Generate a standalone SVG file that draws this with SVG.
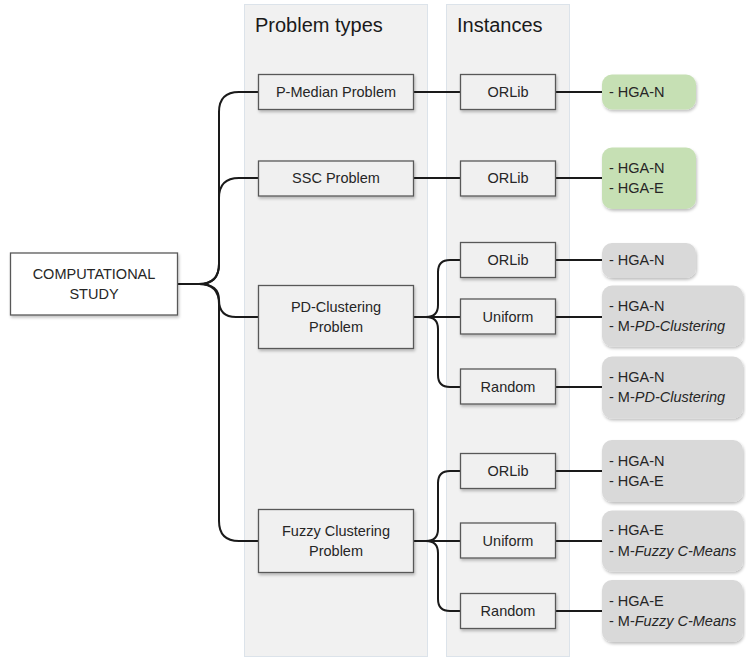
<svg xmlns="http://www.w3.org/2000/svg" width="746" height="659" viewBox="0 0 746 659">
<defs>
<filter id="sh" x="-10%" y="-10%" width="130%" height="140%">
<feGaussianBlur in="SourceAlpha" stdDeviation="1.5"/>
<feOffset dx="1" dy="2" result="b"/>
<feComponentTransfer><feFuncA type="linear" slope="0.25"/></feComponentTransfer>
<feMerge><feMergeNode/><feMergeNode in="SourceGraphic"/></feMerge>
</filter>
</defs>
<style>
text{font-family:"Liberation Sans",Arial,sans-serif;font-size:14.5px;fill:#262626}
.hd{font-size:20px;fill:#1a1a1a}
.c{text-anchor:middle}
.col{fill:#f1f1f1;stroke:#dce3ea;stroke-width:1}
.box{fill:#f0f0f0;stroke:#595959;stroke-width:1.3}
.root{fill:#ffffff;stroke:#595959;stroke-width:1.3}
.g{fill:#c6e0b4}
.y{fill:#d9d9d9}
.ln{fill:none;stroke:#1a1a1a;stroke-width:2}
.i{font-style:italic}
</style>
<rect class="col" x="244.5" y="4.5" width="183" height="652"/>
<rect class="col" x="446.5" y="4.5" width="123" height="652"/>
<text class="hd" x="255" y="32">Problem types</text>
<text class="hd" x="457" y="32">Instances</text>

<g id="connectors">
<path class="ln" d="M178,284 H199 Q219,284 219,264 V112 Q219,92 239,92 H258"/>
<path class="ln" d="M199,284 Q219,284 219,264 V198 Q219,178 239,178 H258"/>
<path class="ln" d="M178,284 H199 Q219,284 219,300 Q219,317 236,317 H258"/>
<path class="ln" d="M199,284 Q219,284 219,304 V521 Q219,541 239,541 H258"/>
<path class="ln" d="M413,92 H460"/>
<path class="ln" d="M413,178 H460"/>
<path class="ln" d="M413,317 H426 Q438,317 438,305 V272 Q438,260 450,260 H460"/>
<path class="ln" d="M426,317 H460"/>
<path class="ln" d="M426,317 Q438,317 438,329 V375 Q438,387 450,387 H460"/>
<path class="ln" d="M413,541 H426 Q438,541 438,529 V483 Q438,471 450,471 H460"/>
<path class="ln" d="M426,541 H460"/>
<path class="ln" d="M426,541 Q438,541 438,553 V599 Q438,611 450,611 H460"/>
<path class="ln" d="M555,92 H602"/>
<path class="ln" d="M555,178 H602"/>
<path class="ln" d="M555,260 H602"/>
<path class="ln" d="M555,317 H602"/>
<path class="ln" d="M555,387 H602"/>
<path class="ln" d="M555,471 H602"/>
<path class="ln" d="M555,541 H602"/>
<path class="ln" d="M555,611 H602"/>
</g>

<g id="root">
<rect class="root" x="10.5" y="253" width="167" height="62" filter="url(#sh)"/>
<text class="c" x="94" y="279">COMPUTATIONAL</text>
<text class="c" x="94" y="299">STUDY</text>
</g>

<g id="p-median">
<rect class="box" x="258.5" y="74.5" width="155" height="35" filter="url(#sh)"/>
<text class="c" x="336" y="97">P-Median Problem</text>
</g>
<g id="ssc">
<rect class="box" x="258.5" y="161" width="155" height="35" filter="url(#sh)"/>
<text class="c" x="336" y="183">SSC Problem</text>
</g>
<g id="pd-clustering">
<rect class="box" x="258.5" y="285.5" width="155" height="63" filter="url(#sh)"/>
<text class="c" x="336" y="312">PD-Clustering</text>
<text class="c" x="336" y="332">Problem</text>
</g>
<g id="fuzzy">
<rect class="box" x="258.5" y="509.5" width="155" height="63" filter="url(#sh)"/>
<text class="c" x="336" y="536">Fuzzy Clustering</text>
<text class="c" x="336" y="556">Problem</text>
</g>

<g id="inst-pm-orlib">
<rect class="box" x="460.5" y="74.5" width="95" height="35" filter="url(#sh)"/>
<text class="c" x="508" y="97">ORLib</text>
</g>
<g id="inst-ssc-orlib">
<rect class="box" x="460.5" y="161" width="95" height="35" filter="url(#sh)"/>
<text class="c" x="508" y="183">ORLib</text>
</g>
<g id="inst-pd-orlib">
<rect class="box" x="460.5" y="242.5" width="95" height="35" filter="url(#sh)"/>
<text class="c" x="508" y="265">ORLib</text>
</g>
<g id="inst-pd-uniform">
<rect class="box" x="460.5" y="299" width="95" height="35" filter="url(#sh)"/>
<text class="c" x="508" y="322">Uniform</text>
</g>
<g id="inst-pd-random">
<rect class="box" x="460.5" y="369" width="95" height="35" filter="url(#sh)"/>
<text class="c" x="508" y="392">Random</text>
</g>
<g id="inst-fz-orlib">
<rect class="box" x="460.5" y="453.5" width="95" height="35" filter="url(#sh)"/>
<text class="c" x="508" y="476">ORLib</text>
</g>
<g id="inst-fz-uniform">
<rect class="box" x="460.5" y="523" width="95" height="35" filter="url(#sh)"/>
<text class="c" x="508" y="546">Uniform</text>
</g>
<g id="inst-fz-random">
<rect class="box" x="460.5" y="593.5" width="95" height="35" filter="url(#sh)"/>
<text class="c" x="508" y="616">Random</text>
</g>

<g id="res-1">
<rect class="g" x="602" y="74.5" width="94" height="35" rx="10" filter="url(#sh)"/>
<text x="609" y="97">- HGA-N</text>
</g>
<g id="res-2">
<rect class="g" x="602" y="147.5" width="94" height="61.5" rx="10" filter="url(#sh)"/>
<text x="609" y="173">- HGA-N</text>
<text x="609" y="193">- HGA-E</text>
</g>
<g id="res-3">
<rect class="y" x="602" y="243" width="94" height="35" rx="10" filter="url(#sh)"/>
<text x="609" y="265">- HGA-N</text>
</g>
<g id="res-4">
<rect class="y" x="602" y="285.5" width="141" height="61" rx="10" filter="url(#sh)"/>
<text x="609" y="311">- HGA-N</text>
<text x="609" y="331">- M-<tspan class="i">PD-Clustering</tspan></text>
</g>
<g id="res-5">
<rect class="y" x="602" y="356.5" width="141" height="62" rx="10" filter="url(#sh)"/>
<text x="609" y="382">- HGA-N</text>
<text x="609" y="402">- M-<tspan class="i">PD-Clustering</tspan></text>
</g>
<g id="res-6">
<rect class="y" x="602" y="440" width="141" height="62" rx="10" filter="url(#sh)"/>
<text x="609" y="466">- HGA-N</text>
<text x="609" y="486">- HGA-E</text>
</g>
<g id="res-7">
<rect class="y" x="602" y="510.5" width="141" height="61" rx="10" filter="url(#sh)"/>
<text x="609" y="535">- HGA-E</text>
<text x="609" y="556">- M-<tspan class="i">Fuzzy C-Means</tspan></text>
</g>
<g id="res-8">
<rect class="y" x="602" y="580" width="141" height="62" rx="10" filter="url(#sh)"/>
<text x="609" y="606">- HGA-E</text>
<text x="609" y="626">- M-<tspan class="i">Fuzzy C-Means</tspan></text>
</g>
</svg>
